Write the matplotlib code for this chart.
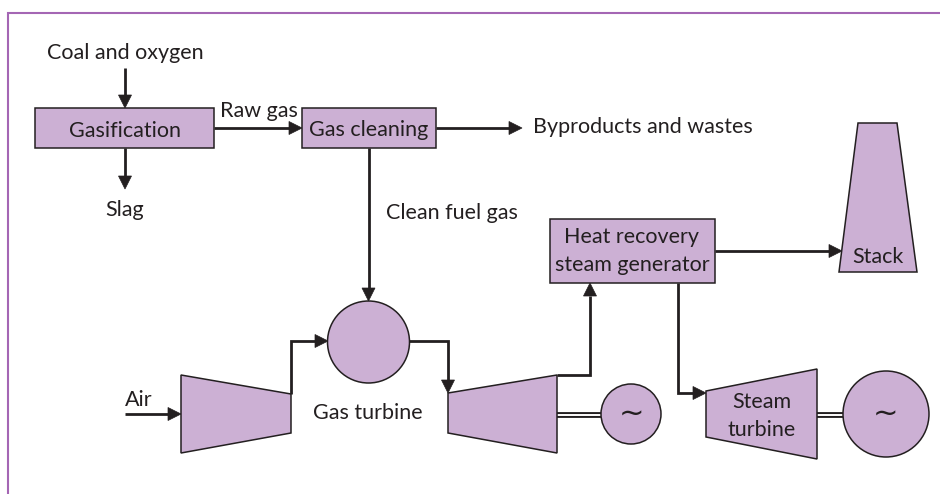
import numpy as np
import matplotlib.pyplot as plt
from matplotlib.patches import Rectangle, Polygon, Circle

plt.rcParams['font.family'] = ['Lato', 'DejaVu Sans']

# texts of the diagram
box_labels = ['Gasification', 'Gas cleaning', 'Heat recovery\nsteam generator']
stream_labels = ['Coal and oxygen', 'Raw gas', 'Byproducts and wastes', 'Slag', 'Clean fuel gas', 'Air']
machine_labels = ['Gas turbine', 'Steam\nturbine', 'Stack']
generator_label = '~'

FILL = '#ccb0d4'
INK = '#231f20'
FRAME = '#a466b4'
FS = 15.5


def arrow(ax, pts, head=13, lw=2.0):
    """Draw a polyline in pixel coords whose last point gets a filled arrow head."""
    pts = np.array(pts, dtype=float)
    d = pts[-1] - pts[-2]
    d = d / np.hypot(*d)
    base = pts[-1] - d * head
    line = np.vstack([pts[:-1], base])
    ax.plot(line[:, 0], line[:, 1], color=INK, lw=lw, solid_capstyle='butt',
            solid_joinstyle='miter', zorder=2)
    n = np.array([-d[1], d[0]])
    tri = [pts[-1], base + n * head / 2, base - n * head / 2]
    ax.add_patch(Polygon(tri, closed=True, fc=INK, ec=INK, lw=0.5, zorder=2))


def label(ax, s, x, y, ha='center', lead=28, size=FS):
    """Write a (multi line) label, y is the baseline of the first line."""
    for i, part in enumerate(s.split('\n')):
        ax.text(x, y + i * lead, part, ha=ha, va='baseline', fontsize=size, color=INK, zorder=4)


def shaft(ax, x0, x1, y):
    # double line between turbine and generator
    ax.plot([x0, x1], [y, y], color=INK, lw=4.2, solid_capstyle='butt', zorder=1)
    ax.plot([x0, x1], [y, y], color='white', lw=1.4, solid_capstyle='butt', zorder=1)


fig = plt.figure(figsize=(9.4, 4.94), dpi=100)
ax = fig.add_axes([0, 0, 1, 1])
ax.set_xlim(0, 940)
ax.set_ylim(494, 0)
ax.axis('off')

# frame (only top and left edges are visible)
ax.plot([8, 8, 940], [494, 13, 13], color=FRAME, lw=1.5, solid_joinstyle='miter')

shape = dict(fc=FILL, ec=INK, lw=1.1, zorder=3)

# boxes
boxes = [(35, 108, 214, 148), (302, 108, 436, 148), (550, 219, 715, 283)]
for (x0, y0, x1, y1) in boxes:
    ax.add_patch(Rectangle((x0, y0), x1 - x0, y1 - y0, **shape))

# compressor, gas turbine, steam turbine, stack
ax.add_patch(Polygon([(181, 375), (291, 394), (291, 433), (181, 453)], **shape))
ax.add_patch(Polygon([(448, 393), (557, 375), (557, 453), (448, 433)], **shape))
ax.add_patch(Polygon([(706, 391), (817, 369), (817, 459), (706, 437)], **shape))
ax.add_patch(Polygon([(858, 123), (897, 123), (917, 272), (839, 272)], **shape))

# combustor and generators
ax.add_patch(Circle((368.5, 342), 41, **shape))
ax.add_patch(Circle((631, 414), 30, **shape))
ax.add_patch(Circle((886, 414), 43, **shape))
shaft(ax, 557, 601, 414.5)
shaft(ax, 817, 843, 414.5)

# flows
arrow(ax, [(125, 68), (125, 108)])
arrow(ax, [(125, 148), (125, 189)])
arrow(ax, [(214, 128), (302, 128)])
arrow(ax, [(436, 128), (522, 128)])
arrow(ax, [(368.5, 148), (368.5, 301)])
arrow(ax, [(291, 394), (291, 341), (328, 341)])
arrow(ax, [(409, 341), (448, 341), (448, 393)])
arrow(ax, [(557, 375), (590, 375), (590, 283)])
arrow(ax, [(715, 251), (842, 251)])
arrow(ax, [(678, 283), (678, 393), (706, 393)])
arrow(ax, [(125, 414), (181, 414)])

# box texts
label(ax, box_labels[0], 125, 137)
label(ax, box_labels[1], 369, 136)
label(ax, box_labels[2], 632, 243)

# stream texts
label(ax, stream_labels[0], 125, 59)
label(ax, stream_labels[1], 220, 117, ha='left')
label(ax, stream_labels[2], 533, 133, ha='left')
label(ax, stream_labels[3], 125, 216)
label(ax, stream_labels[4], 386, 219, ha='left')
label(ax, stream_labels[5], 125, 406, ha='left')

# machine texts
label(ax, machine_labels[0], 368, 419)
label(ax, machine_labels[1], 762, 408)
label(ax, machine_labels[2], 878, 263)

# generator symbols
for cx in (631, 886):
    ax.text(cx, 414, generator_label, ha='center', va='center', fontsize=22,
            family='DejaVu Sans', color=INK, zorder=4)

fig.savefig('out.png', dpi=100)
